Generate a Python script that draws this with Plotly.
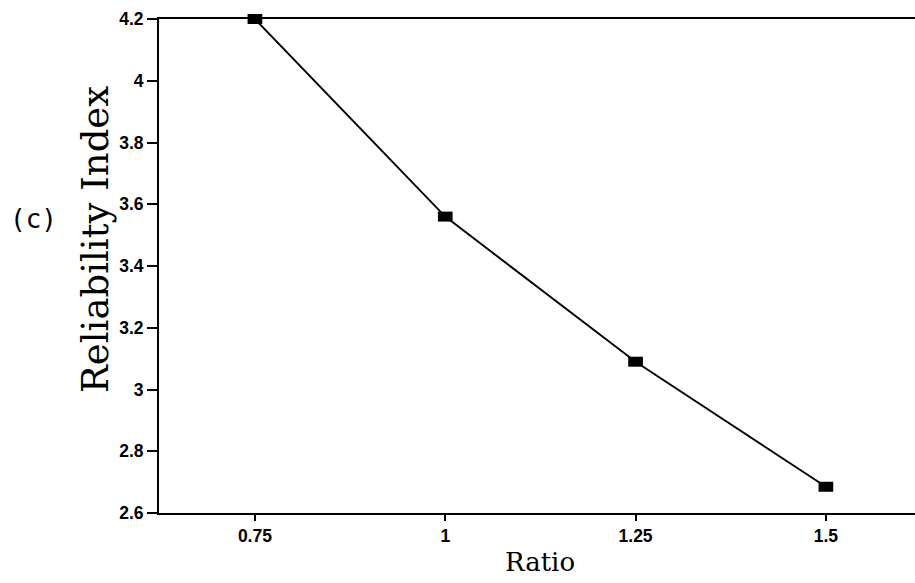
import plotly.graph_objects as go

# Reliability index against ratio
ratio = [0.75, 1.0, 1.25, 1.5]
reliability = [4.2, 3.56, 3.09, 2.685]

x_ticks = [0.75, 1.0, 1.25, 1.5]
x_tick_text = ["0.75", "1", "1.25", "1.5"]
y_ticks = [2.6, 2.8, 3.0, 3.2, 3.4, 3.6, 3.8, 4.0, 4.2]
y_tick_text = ["2.6", "2.8", "3", "3.2", "3.4", "3.6", "3.8", "4", "4.2"]

FIG_W, FIG_H = 915, 583
L, T, B = 159, 19, 70
PLOT_W = FIG_W - L
PLOT_H = FIG_H - T - B

fig = go.Figure()
fig.add_trace(go.Scatter(
    x=ratio, y=reliability,
    mode="lines+markers",
    line=dict(color="black", width=1.9),
    marker=dict(symbol="line-ew", size=10.5, color="black",
                line=dict(color="black", width=10)),
    cliponaxis=False,
    showlegend=False,
))

tick_font = dict(family="Liberation Sans", size=17.5, color="black")

fig.update_layout(
    width=FIG_W, height=FIG_H,
    margin=dict(l=L, r=0, t=T, b=B),
    paper_bgcolor="white", plot_bgcolor="white",
    xaxis=dict(
        range=[0.624, 0.624 + PLOT_W / 761.3],
        tickvals=x_ticks, ticktext=[f"<b>{t}</b>" for t in x_tick_text],
        ticks="outside", ticklen=6, tickwidth=2, tickcolor="black",
        showline=True, linecolor="black", linewidth=2, mirror=True,
        showgrid=False, zeroline=False,
        tickfont=tick_font,
    ),
    yaxis=dict(
        range=[2.6, 4.2],
        tickvals=y_ticks, ticktext=[f"<b>{t}</b>" for t in y_tick_text],
        ticks="outside", ticklen=10, tickwidth=2, tickcolor="black",
        showline=True, linecolor="black", linewidth=2, mirror=False,
        showgrid=False, zeroline=False,
        tickfont=tick_font,
    ),
    annotations=[
        dict(text="Ratio", xref="paper", yref="paper",
             x=(540 - L) / PLOT_W, y=-(562 - 513) / PLOT_H,
             xanchor="center", yanchor="middle", showarrow=False,
             font=dict(family="DejaVu Serif", size=26, color="black")),
        dict(text="Reliability Index", xref="paper", yref="paper",
             x=-(L - 96) / PLOT_W, y=(513 - 240) / PLOT_H,
             xanchor="center", yanchor="middle", showarrow=False, textangle=-90,
             font=dict(family="DejaVu Serif", size=37, color="black")),
        dict(text="(c)", xref="paper", yref="paper",
             x=-(L - 33) / PLOT_W, y=(513 - 219) / PLOT_H,
             xanchor="center", yanchor="middle", showarrow=False,
             font=dict(family="DejaVu Sans Mono", size=26, color="black")),
    ],
)

fig.write_html("out.html")
